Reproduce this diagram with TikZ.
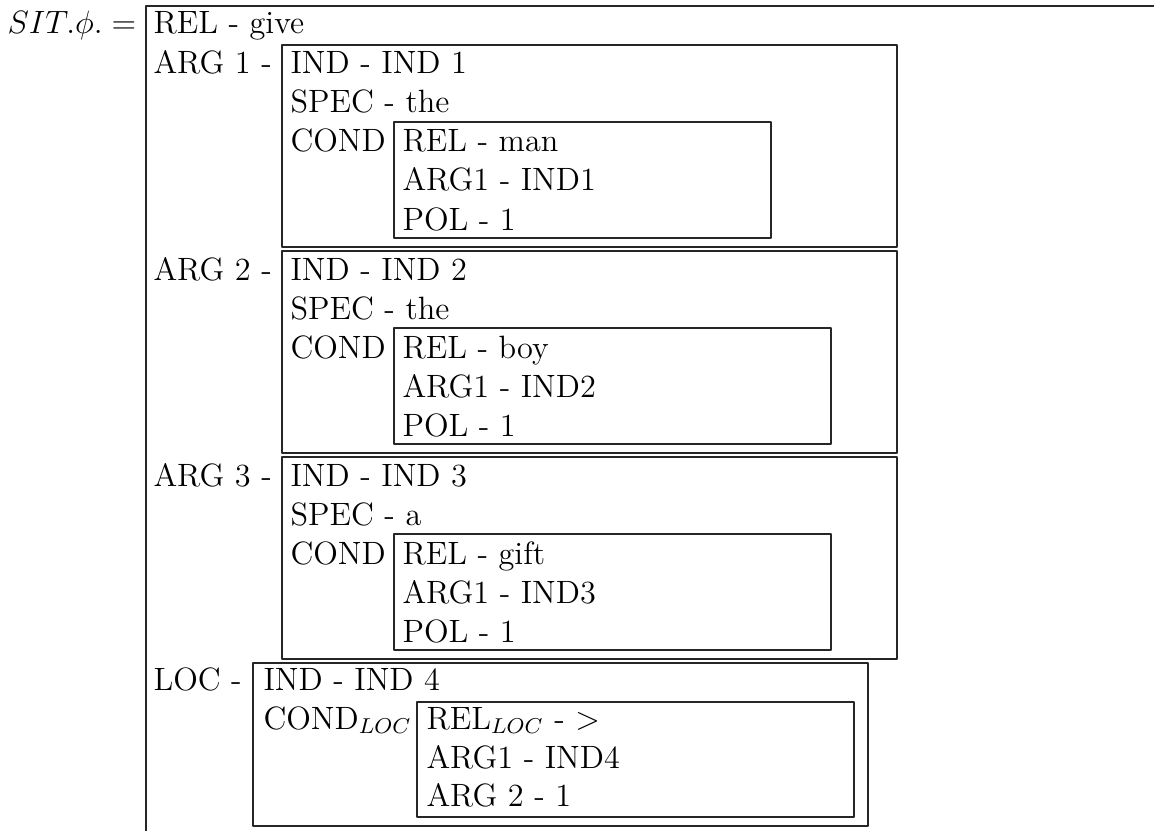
\documentclass[tikz,border=0pt]{standalone}
\begin{document}
\begin{tikzpicture}[x=0.3717pt, y=-0.3717pt, line cap=round, line join=round]
	\tikzset{
		txt/.style={anchor=base west, inner sep=0pt, font=\fontsize{12}{14.5}\selectfont},
		frame/.style={draw=black!85, line width=0.5pt}, % thin box lines
		subframe/.style={frame}
	}
	\useasboundingbox (0,0) rectangle (1154,830);
	\clip (0,0) rectangle (1154,830);
	% outer box, open to the right and below
	\node[txt] (sit) at (7,34) {$SIT.\phi. =$};
	\draw[frame] (146,840) -- (146,6) -- (1160,6);
	\node[txt] (relgive) at (153,34) {REL - give};
	% the three arguments
	\foreach \k/\t/\spec/\word/\ir in {1/45/the/man/771, 2/251/the/boy/831, 3/457/a/gift/831} {
		\draw[frame] (282,\t) rectangle (897,\t+202);
		\node[txt] (arg\k) at (153,\t+29) {ARG \k\ -};
		\node[txt] (ind\k) at (290,\t+29) {IND - IND \k};
		\node[txt] (spec\k) at (290,\t+68) {SPEC - \spec};
		\node[txt] (cond\k) at (290,\t+107) {COND};
		\draw[subframe] (394,\t+77) rectangle (\ir,\t+193);
		\node[txt] (rel\k) at (402,\t+107) {REL - \word};
		\node[txt] (argone\k) at (402,\t+146) {ARG1 - IND\k};
		\node[txt] (pol\k) at (402,\t+185) {POL - 1};
	}
	% location
	\draw[frame] (253,663) rectangle (868,826);
	\node[txt] (loc) at (153,690) {LOC -};
	\node[txt] (ind4) at (263,690) {IND - IND 4};
	\node[txt] (condloc) at (263,729) {COND$_{LOC}$};
	\draw[subframe] (417,702) rectangle (854,817);
	\node[txt] (relloc) at (426,729) {REL$_{LOC}$ - $>$};
	\node[txt] (argoneloc) at (426,768) {ARG1 - IND4};
	\node[txt] (argtwoloc) at (426,806) {ARG 2 - 1};
\end{tikzpicture}
\end{document}
